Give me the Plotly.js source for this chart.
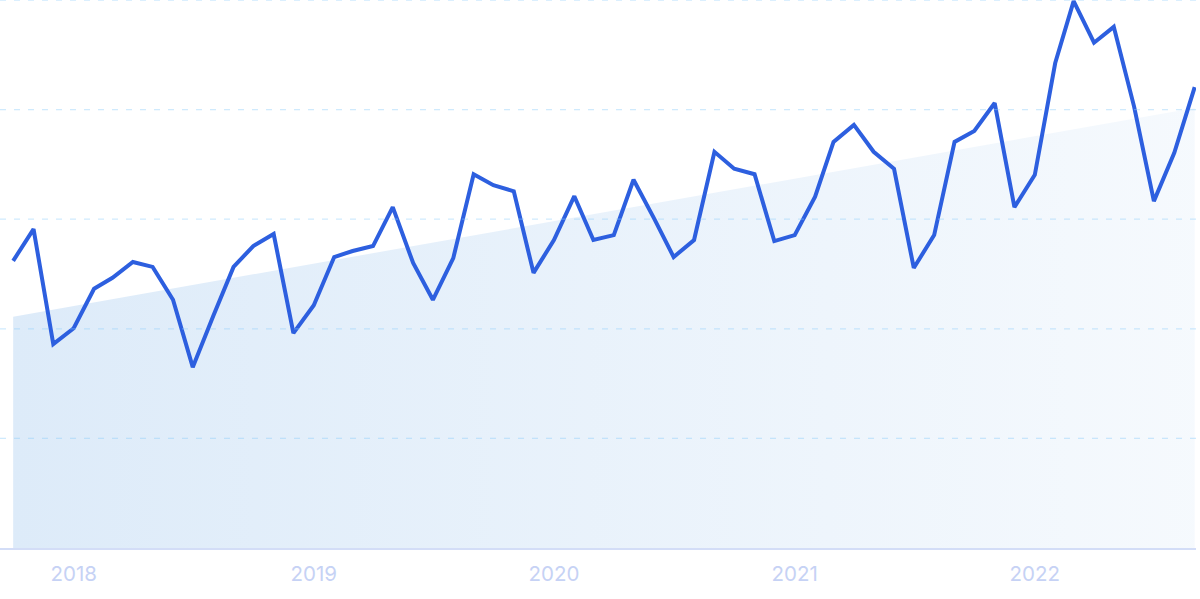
<!DOCTYPE html>
<html>
<head>
<meta charset="utf-8">
<script src="https://cdn.plot.ly/plotly-3.0.1.min.js"></script>
<style>
  html, body { margin: 0; padding: 0; background: #ffffff; }
  #chart { width: 1200px; height: 599px; }
</style>
</head>
<body>
<div id="chart"></div>
<script>
// Monthly series, Oct 2017 – Sep 2022 (relative interest, 0–100)
const months = [
  "2017-10-01","2017-11-01","2017-12-01",
  "2018-01-01","2018-02-01","2018-03-01","2018-04-01","2018-05-01","2018-06-01",
  "2018-07-01","2018-08-01","2018-09-01","2018-10-01","2018-11-01","2018-12-01",
  "2019-01-01","2019-02-01","2019-03-01","2019-04-01","2019-05-01","2019-06-01",
  "2019-07-01","2019-08-01","2019-09-01","2019-10-01","2019-11-01","2019-12-01",
  "2020-01-01","2020-02-01","2020-03-01","2020-04-01","2020-05-01","2020-06-01",
  "2020-07-01","2020-08-01","2020-09-01","2020-10-01","2020-11-01","2020-12-01",
  "2021-01-01","2021-02-01","2021-03-01","2021-04-01","2021-05-01","2021-06-01",
  "2021-07-01","2021-08-01","2021-09-01","2021-10-01","2021-11-01","2021-12-01",
  "2022-01-01","2022-02-01","2022-03-01","2022-04-01","2022-05-01","2022-06-01",
  "2022-07-01","2022-08-01","2022-09-01"
];
const values = [
  52.4, 58.2, 37.2,
  40.1, 47.3, 49.3, 52.2, 51.3, 45.3,
  33.0, 42.3, 51.3, 55.1, 57.3, 39.2,
  44.3, 53.1, 54.2, 55.1, 62.2, 52.0,
  45.3, 52.9, 68.2, 66.2, 65.1, 50.2,
  56.2, 64.2, 56.2, 57.1, 67.2, 60.2,
  53.1, 56.2, 72.3, 69.2, 68.2, 56.0,
  57.1, 64.1, 74.1, 77.2, 72.3, 69.2,
  51.1, 57.1, 74.1, 76.1, 81.2, 62.2,
  68.1, 88.5, 99.8, 92.2, 95.1, 80.5,
  63.3, 72.1, 84.1
];
// Trend (shaded area) end points
const trendDates = ["2017-10-01", "2022-09-01"];
const trendValues = [42.2, 80.3];
// Year tick labels
const yearTicks = ["2018-01-01","2019-01-01","2020-01-01","2021-01-01","2022-01-01"];
const yearLabels = ["2018","2019","2020","2021","2022"];
// Horizontal grid levels
const gridLevels = [20, 40, 60, 80, 100];

const traces = [
  {
    type: "scatter",
    mode: "lines",
    x: trendDates,
    y: trendValues,
    line: { width: 0, color: "rgba(0,0,0,0)" },
    fill: "tozeroy",
    fillcolor: "rgba(170,205,240,0.3)",
    fillgradient: {
      type: "horizontal",
      colorscale: [[0, "rgba(170,205,240,0.40)"], [1, "rgba(170,205,240,0.11)"]]
    },
    hoverinfo: "skip",
    showlegend: false
  },
  {
    type: "scatter",
    mode: "lines",
    x: months,
    y: values,
    line: { color: "#2d5fdf", width: 4, shape: "linear" },
    showlegend: false
  }
];

const shapes = gridLevels.map(v => ({
  type: "line",
  xref: "paper", x0: 0, x1: 1,
  yref: "y", y0: v, y1: v,
  layer: "above",
  line: { color: "rgba(140,205,250,0.42)", width: 1.3, dash: "6px,8px" }
}));

const layout = {
  width: 1200,
  height: 599,
  margin: { l: 0, r: 4, t: 0, b: 51 },
  paper_bgcolor: "#ffffff",
  plot_bgcolor: "#ffffff",
  showlegend: false,
  shapes: shapes,
  xaxis: {
    type: "date",
    range: ["2017-09-11", "2022-09-03"],
    tickmode: "array",
    tickvals: yearTicks,
    ticktext: yearLabels,
    showgrid: false,
    zeroline: false,
    showline: true,
    linecolor: "#d3ddf7",
    linewidth: 1.5,
    ticks: "",
    ticklabelstandoff: 7,
    tickfont: { family: "Inter, 'Noto Sans', sans-serif", size: 20.5, color: "#c6d2f5" }
  },
  yaxis: {
    range: [0, 100],
    showticklabels: false,
    showgrid: false,
    zeroline: false,
    showline: false
  }
};

Plotly.newPlot("chart", traces, layout, { displayModeBar: false, staticPlot: true });
</script>
</body>
</html>
